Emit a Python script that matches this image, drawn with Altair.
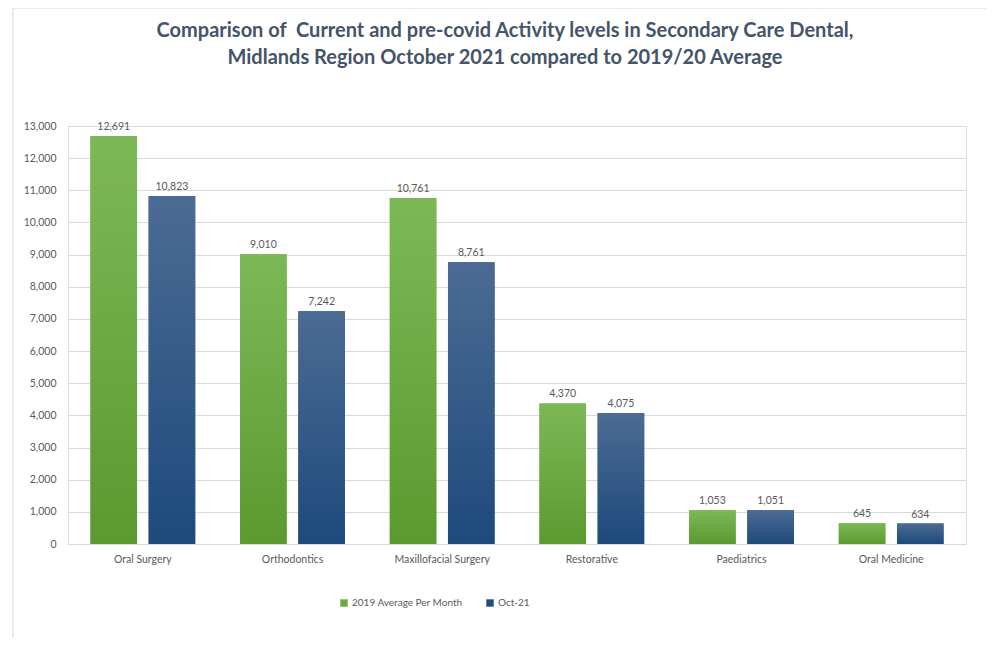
import altair as alt
import pandas as pd

categories = ["Oral Surgery", "Orthodontics", "Maxillofacial Surgery", "Restorative", "Paediatrics", "Oral Medicine"]
series_names = ["2019 Average Per Month", "Oct-21"]
avg_2019 = [12691, 9010, 10761, 4370, 1053, 645]
oct_21 = [10823, 7242, 8761, 4075, 1051, 634]
y_ticks = list(range(0, 14000, 1000))

rows = []
for c, a, o in zip(categories, avg_2019, oct_21):
    rows.append({"category": c, "series": series_names[0], "value": a})
    rows.append({"category": c, "series": series_names[1], "value": o})
df = pd.DataFrame(rows)

W, H = 898, 418
FONT = "Lato"
GRAY = "#595959"

x_enc = alt.X("category:N", sort=categories,
              scale=alt.Scale(paddingInner=0.3, paddingOuter=0.15),
              axis=alt.Axis(title=None, labelAngle=0, labelFontSize=10.5, labelColor=GRAY,
                            labelFont=FONT, domain=False, ticks=False, grid=False,
                            labelPadding=10))
xo_enc = alt.XOffset("series:N", sort=series_names,
                     scale=alt.Scale(domain=series_names, paddingInner=0.2, paddingOuter=0))
y_enc = alt.Y("value:Q", scale=alt.Scale(domain=[0, 13000], nice=False),
              axis=alt.Axis(title=None, values=y_ticks, format=",.0f", labelFontSize=10.5,
                            labelColor=GRAY, labelFont=FONT, domain=False, ticks=False,
                            labelPadding=12, gridColor="#d9d9d9", gridWidth=1))

base = alt.Chart(df)

border = alt.Chart(pd.DataFrame({"k": [0]})).mark_rect(
    fillOpacity=0, stroke="#e4e4e4", strokeWidth=1.5
).encode(x=alt.value(-55), x2=alt.value(921), y=alt.value(-118), y2=alt.value(530))

flat = base.mark_bar().encode(
    x=x_enc, xOffset=xo_enc, y=y_enc,
    color=alt.Color("series:N", sort=series_names,
                    scale=alt.Scale(domain=series_names, range=["#6aab3e", "#1f4e79"]),
                    legend=alt.Legend(title=None, orient="none", legendX=271, legendY=472,
                                      direction="horizontal", symbolType="square",
                                      symbolSize=55, symbolStrokeWidth=0,
                                      labelFontSize=10, labelColor=GRAY, labelFont=FONT,
                                      columnPadding=22, labelOffset=3))
)

green_grad = alt.Gradient(gradient="linear", x1=0, y1=0, x2=0, y2=1,
                          stops=[alt.GradientStop(color="#7db856", offset=0),
                                 alt.GradientStop(color="#5b9a2f", offset=1)])
blue_grad = alt.Gradient(gradient="linear", x1=0, y1=0, x2=0, y2=1,
                         stops=[alt.GradientStop(color="#4c6b94", offset=0),
                                alt.GradientStop(color="#1d4a7c", offset=1)])

g_layer = base.transform_filter(alt.datum.series == series_names[0]).mark_bar(
    fill=green_grad).encode(x=x_enc, xOffset=xo_enc, y=y_enc)
b_layer = base.transform_filter(alt.datum.series == series_names[1]).mark_bar(
    fill=blue_grad).encode(x=x_enc, xOffset=xo_enc, y=y_enc)

labels = base.mark_text(dy=-9, fontSize=10.5, color=GRAY, font=FONT).encode(
    x=x_enc, xOffset=xo_enc, y=y_enc, text=alt.Text("value:Q", format=",.0f")
)

chart = alt.layer(border, flat, g_layer, b_layer, labels).properties(
    width=W, height=H,
    autosize=alt.AutoSizeParams(type="none"),
    padding={"left": 60, "top": 118, "right": 20, "bottom": 94},
    title=alt.TitleParams(
        text=["Comparison of \u00a0Current and pre-covid Activity levels in Secondary Care Dental,",
              "Midlands Region October 2021 compared to 2019/20 Average"],
        font=FONT, fontSize=20, fontWeight="bold", color="#44546a",
        anchor="middle", offset=-61, lineHeight=27, dx=-12)
).configure_view(stroke=None, strokeWidth=0).configure(background="white")

chart.save("out.html", embed_options={"renderer": "svg", "actions": False})
